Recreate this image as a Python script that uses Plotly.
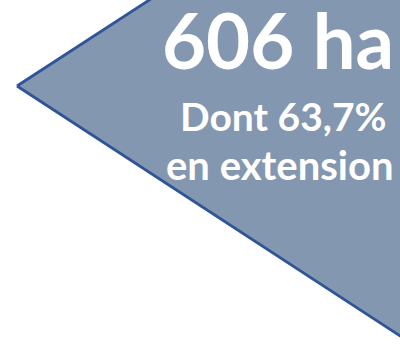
import plotly.graph_objects as go

# Shape (arrow pointing left) vertices in pixel-like data units
shape_x = [17, 420, 420, 17]
shape_y = [86, -176, 349, 86]

# Text lines
title_text = "606 ha"
sub_lines = ["Dont 63,7%", "en extension"]

fill_color = "#8497B0"
line_color = "#2F5597"

fig = go.Figure()
fig.add_trace(go.Scatter(
    x=shape_x, y=shape_y, mode="lines", fill="toself",
    fillcolor=fill_color, line=dict(color=line_color, width=2.8),
    hoverinfo="skip", showlegend=False,
))

font_family = "Lato, 'Open Sans', sans-serif"
fig.add_annotation(x=278, y=39, text="<b>%s</b>" % title_text, showarrow=False,
                   xanchor="center", yanchor="middle",
                   font=dict(family=font_family, size=76, color="white"))
fig.add_annotation(x=283, y=116, text="<b>%s</b>" % sub_lines[0], showarrow=False,
                   xanchor="center", yanchor="middle",
                   font=dict(family=font_family, size=39, color="white"))
fig.add_annotation(x=280, y=165, text="<b>%s</b>" % sub_lines[1], showarrow=False,
                   xanchor="center", yanchor="middle",
                   font=dict(family=font_family, size=40, color="white"))

fig.update_layout(
    width=400, height=345, margin=dict(l=0, r=0, t=0, b=0),
    paper_bgcolor="white", plot_bgcolor="white",
    xaxis=dict(range=[0, 400], visible=False, fixedrange=True),
    yaxis=dict(range=[345, 0], visible=False, fixedrange=True),
)
fig.write_html("out.html", config={"displayModeBar": False},
               post_script="document.body.style.margin='0';document.body.style.overflow='hidden';")
